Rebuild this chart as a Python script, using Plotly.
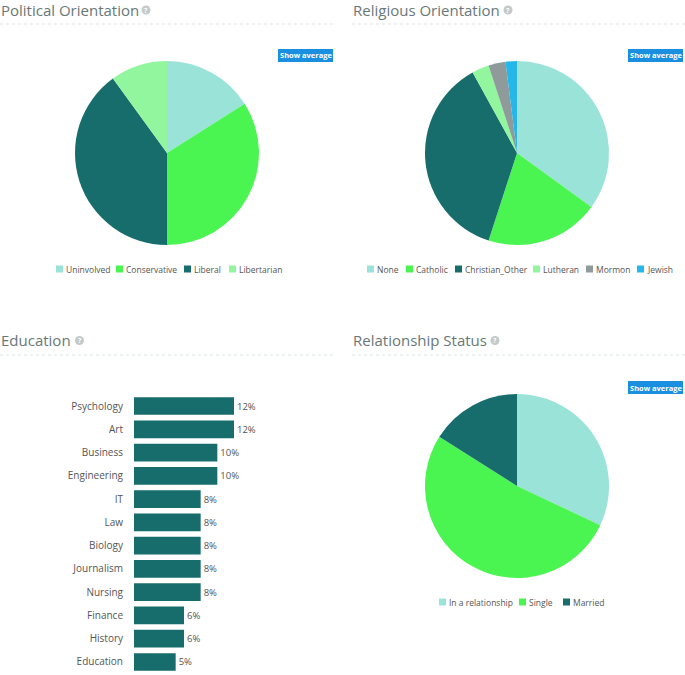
import plotly.graph_objects as go

W, H = 685, 675

# ---------------- data ----------------
political_labels = ["Uninvolved", "Conservative", "Liberal", "Libertarian"]
political_values = [16, 34, 40, 10]

religious_labels = ["None", "Catholic", "Christian_Other", "Lutheran", "Mormon", "Jewish"]
religious_values = [35, 20, 37, 3, 3, 2]

relationship_labels = ["In a relationship", "Single", "Married"]
relationship_values = [32, 52, 16]

education_labels = ["Psychology", "Art", "Business", "Engineering", "IT", "Law",
                    "Biology", "Journalism", "Nursing", "Finance", "History", "Education"]
education_values = [12, 12, 10, 10, 8, 8, 8, 8, 8, 6, 6, 5]

# ---------------- styles ----------------
C_LTEAL = "#9ae3d8"
C_GREEN = "#4af552"
C_DTEAL = "#176d6c"
C_LGREEN = "#91f69d"
C_GREY = "#8f9a9a"
C_BLUE = "#24b7e8"
political_colors = [C_LTEAL, C_GREEN, C_DTEAL, C_LGREEN]
religious_colors = [C_LTEAL, C_GREEN, C_DTEAL, C_LGREEN, C_GREY, C_BLUE]
relationship_colors = [C_LTEAL, C_GREEN, C_DTEAL]

FONT = "Open Sans"
TITLE_COLOR = "#687878"
TEXT_COLOR = "#555555"


def px(x):
    return x / W


def py(y):
    return 1 - y / H


def pie_domain(cx, cy, r):
    return dict(x=[px(cx - r), px(cx + r)], y=[py(cy + r), py(cy - r)])


fig = go.Figure()

fig.add_trace(go.Pie(labels=political_labels, values=political_values,
                     marker=dict(colors=political_colors, line=dict(width=0)),
                     sort=False, direction="clockwise", textinfo="none",
                     domain=pie_domain(167, 153, 92), showlegend=False,
                     hoverinfo="label+percent"))
fig.add_trace(go.Pie(labels=religious_labels, values=religious_values,
                     marker=dict(colors=religious_colors, line=dict(width=0)),
                     sort=False, direction="clockwise", textinfo="none",
                     domain=pie_domain(517, 153, 92), showlegend=False,
                     hoverinfo="label+percent"))
fig.add_trace(go.Pie(labels=relationship_labels, values=relationship_values,
                     marker=dict(colors=relationship_colors, line=dict(width=0)),
                     sort=False, direction="clockwise", textinfo="none",
                     domain=pie_domain(517, 486, 92), showlegend=False,
                     hoverinfo="label+percent"))

fig.add_trace(go.Bar(x=education_values, y=education_labels, orientation="h",
                     marker=dict(color=C_DTEAL, line=dict(width=0)),
                     text=[f"{v}%" for v in education_values],
                     textposition="outside", cliponaxis=False,
                     textfont=dict(family=FONT, size=9.5, color=TEXT_COLOR),
                     showlegend=False, hoverinfo="x+y"))

shapes = []
annotations = []

# section titles + help icon + dotted separator
titles = [("Political Orientation", 0, 9.5, 146, 0, 333, 24),
          ("Religious Orientation", 352, 9.5, 508, 352, 685, 24),
          ("Education", 0, 340, 79.5, 0, 333, 355),
          ("Relationship Status", 352, 340, 495, 352, 685, 355)]
for text, tx, ty, qx, lx0, lx1, ly in titles:
    annotations.append(dict(text=text, x=px(tx - 1), y=py(ty), xref="paper", yref="paper",
                            xanchor="left", yanchor="middle", showarrow=False,
                            font=dict(family=FONT, size=15, color=TITLE_COLOR)))
    shapes.append(dict(type="circle", xref="paper", yref="paper",
                       x0=px(qx - 4.5), x1=px(qx + 4.5), y0=py(ty + 5), y1=py(ty - 4),
                       fillcolor="#c4c9c9", line=dict(width=0)))
    annotations.append(dict(text="<b>?</b>", x=px(qx), y=py(ty + 0.5), xref="paper", yref="paper",
                            xanchor="center", yanchor="middle", showarrow=False,
                            font=dict(family=FONT, size=7, color="white")))
    shapes.append(dict(type="line", xref="paper", yref="paper",
                       x0=px(lx0), x1=px(lx1), y0=py(ly), y1=py(ly),
                       line=dict(color="#dde3e3", width=1, dash="dot")))

# "Show average" buttons
for bx0, by0 in [(278, 49), (628, 49), (628, 381)]:
    shapes.append(dict(type="rect", xref="paper", yref="paper",
                       x0=px(bx0), x1=px(bx0 + 55), y0=py(by0 + 13), y1=py(by0),
                       fillcolor="#1a8fdf", line=dict(width=0)))
    annotations.append(dict(text="<b>Show average</b>", x=px(bx0 + 27.5), y=py(by0 + 6.5),
                            xref="paper", yref="paper", xanchor="center", yanchor="middle",
                            showarrow=False, font=dict(family=FONT, size=7.5, color="white")))

# custom legends
legend_specs = [
    (political_labels, political_colors, [56, 116, 184, 229], 269),
    (religious_labels, religious_colors, [367, 406, 455, 533, 586, 637], 269),
    (relationship_labels, relationship_colors, [439, 519, 563], 602),
]
for labels, colors, xs, ly in legend_specs:
    for lab, col, x in zip(labels, colors, xs):
        shapes.append(dict(type="rect", xref="paper", yref="paper",
                           x0=px(x), x1=px(x + 7), y0=py(ly + 3.5), y1=py(ly - 3.5),
                           fillcolor=col, line=dict(width=0)))
        annotations.append(dict(text=lab, x=px(x + 8), y=py(ly), xref="paper", yref="paper",
                                xanchor="left", yanchor="middle", showarrow=False,
                                font=dict(family=FONT, size=8.5, color=TEXT_COLOR)))

fig.update_layout(
    width=W, height=H,
    margin=dict(l=0, r=0, t=0, b=0, pad=0),
    paper_bgcolor="white", plot_bgcolor="white",
    shapes=shapes, annotations=annotations,
    bargap=0.24,
    xaxis=dict(domain=[px(134), px(334)], range=[0, 24], visible=False, fixedrange=True),
    yaxis=dict(domain=[py(673.6), py(394.4)], autorange="reversed",
               showgrid=False, showline=False, zeroline=False, ticks="",
               ticklabelstandoff=10,
               tickfont=dict(family=FONT, size=10, color=TEXT_COLOR)),
    font=dict(family=FONT),
)

fig.write_html("out.html", config={"displayModeBar": False},
               post_script="document.body.style.margin='0';")
